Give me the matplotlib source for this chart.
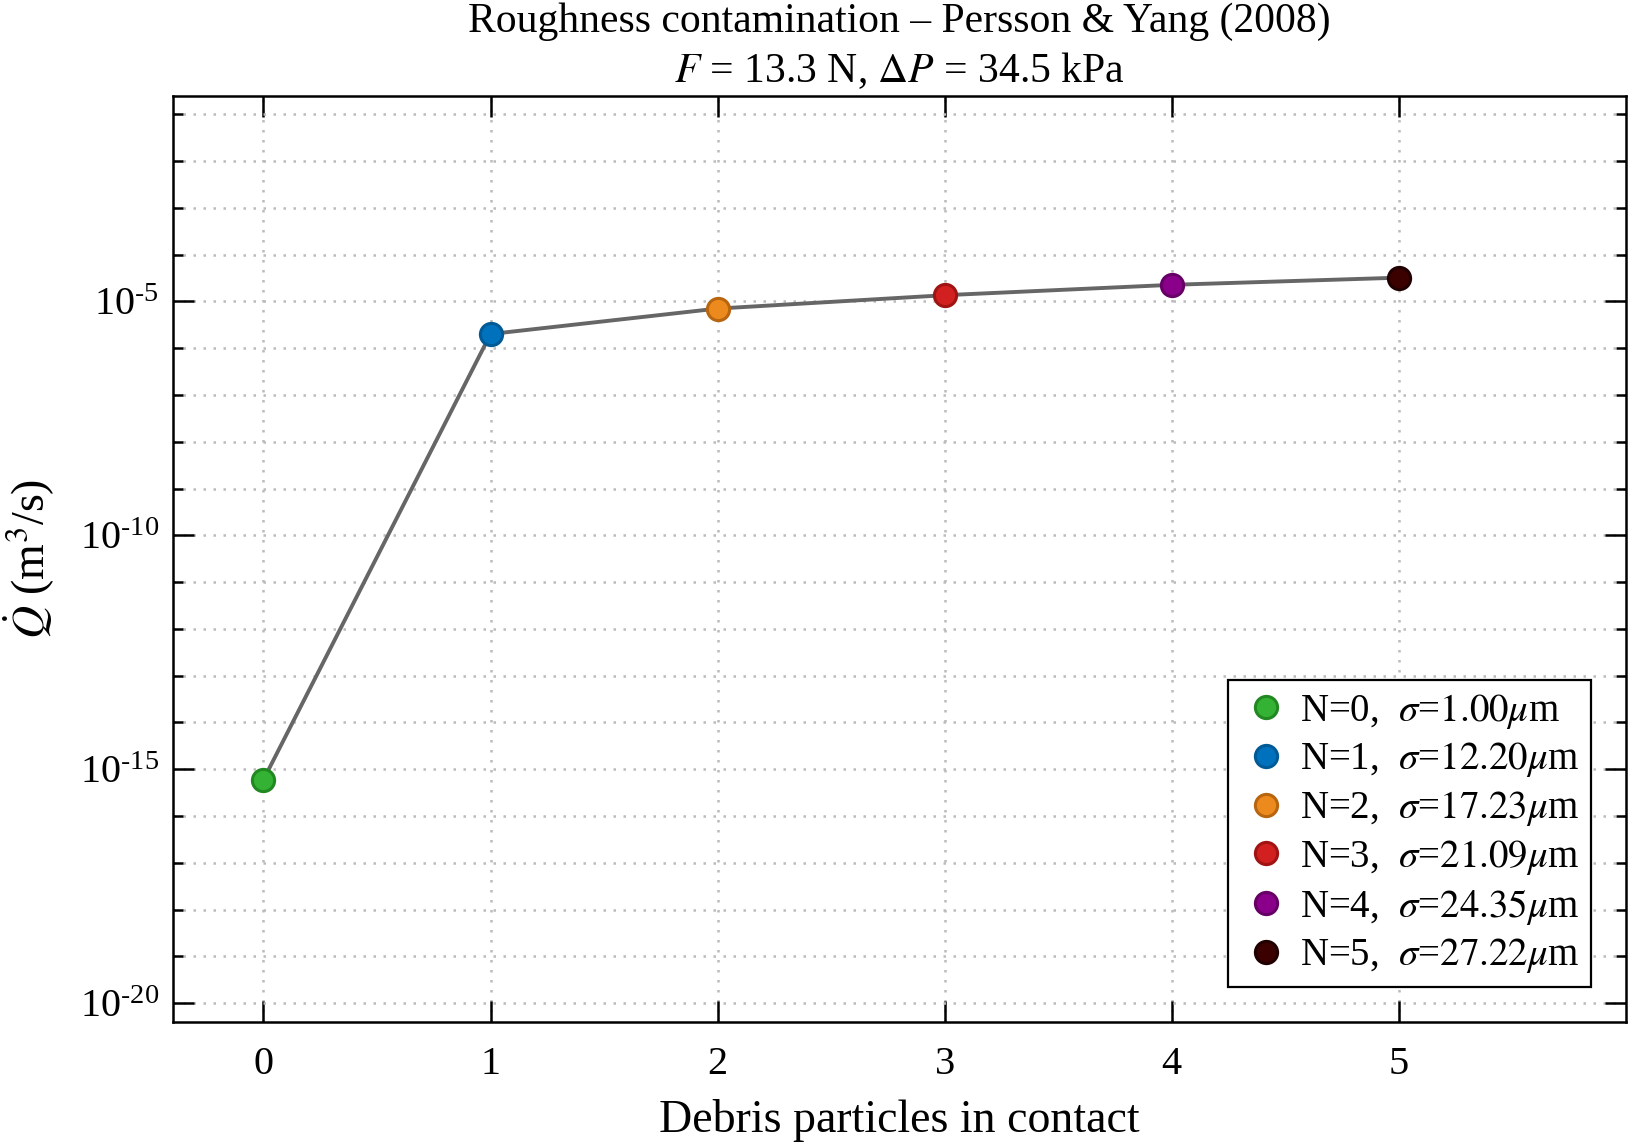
import numpy as np
import matplotlib
matplotlib.use('Agg')
import matplotlib.pyplot as plt
from matplotlib.ticker import FixedLocator, NullFormatter

plt.rcParams['font.family'] = ['Liberation Serif', 'DejaVu Serif']
plt.rcParams['mathtext.fontset'] = 'stix'

# data
n_particles = [0, 1, 2, 3, 4, 5]
sigma_um = [1.00, 12.20, 17.23, 21.09, 24.35, 27.22]
q_leak = [6.0e-16, 2.0e-6, 7.0e-6, 1.35e-5, 2.25e-5, 3.2e-5]
face_colors = ['#33b233', '#0072bd', '#ec8a1d', '#d21f1f', '#8b008b', '#3b0000']
edge_colors = ['#228822', '#005a96', '#b8650f', '#a01414', '#660066', '#200000']
major_exp = [-20, -15, -10, -5]

fig = plt.figure(figsize=(16.29, 11.47), dpi=100)
ax = fig.add_axes([0.106, 0.109, 0.892, 0.807])

ax.plot(n_particles, q_leak, color='#666666', linewidth=2.8, zorder=2)
for n, s, q, fc, ec in zip(n_particles, sigma_um, q_leak, face_colors, edge_colors):
    ax.plot([n], [q], 'o', markersize=16, markerfacecolor=fc,
            markeredgecolor=ec, markeredgewidth=2.2, linestyle='none', zorder=3,
            label=f'N={n},  $\\sigma$=${s:.2f}\\mu$m')

ax.set_yscale('log')
ax.set_xlim(-0.4, 6.0)
ax.set_ylim(10**-20.4, 10**-0.62)
ax.set_xticks(n_particles)
ax.set_xticklabels([str(n) for n in n_particles])

ax.yaxis.set_major_locator(FixedLocator([10.0**k for k in major_exp]))
ax.set_yticklabels(['$\\mathregular{10^{\\text{-}%d}}$' % (-k) for k in major_exp])
minor_y = [10.0**k for k in range(-20, 0) if k % 5 != 0]
ax.yaxis.set_minor_locator(FixedLocator(minor_y))
ax.yaxis.set_minor_formatter(NullFormatter())

ax.tick_params(axis='both', which='both', direction='in', top=True, right=True,
               labelsize=29, width=1.8)
ax.tick_params(axis='both', which='major', length=15, pad=10)
ax.tick_params(axis='x', which='major', pad=17)
ax.tick_params(axis='y', which='minor', length=7)
ax.tick_params(axis='x', which='minor', bottom=False, top=False)

ax.grid(True, which='both', linestyle=(0, (1, 3)), color='#bbbbbb', linewidth=1.8)
for sp in ax.spines.values():
    sp.set_linewidth(1.8)

ax.set_xlabel('Debris particles in contact', fontsize=33, labelpad=12)
ax.set_ylabel('$\\dot{Q}$ (m$^3$/s)', fontsize=33, labelpad=16)
ax.set_title('Roughness contamination \u2013 Persson & Yang (2008)\n'
             '$F$ = 13.3 N, $\\Delta P$ = 34.5 kPa', fontsize=30, pad=10,
             linespacing=1.3)

leg = ax.legend(loc='lower right', fontsize=28, frameon=True, fancybox=False,
                framealpha=1, edgecolor='black', borderpad=0.3,
                handletextpad=0.15, labelspacing=0.25, handlelength=1.4,
                borderaxespad=0.9, markerscale=1.0)
leg.get_frame().set_linewidth(1.6)

fig.savefig('out.png', dpi=100)
